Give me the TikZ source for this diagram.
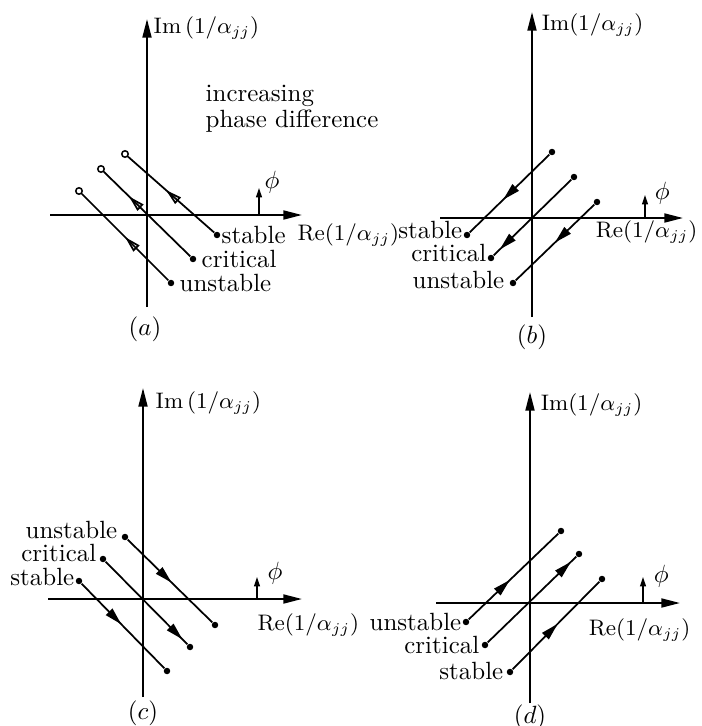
\documentclass[tikz,border=0pt]{standalone}
\usepackage{amsmath,amssymb}
\usepackage{tikz}
\usetikzlibrary{arrows.meta,positioning,decorations.markings}

\tikzset{
  axis/.style={line width=0.8pt, -{Triangle[length=7.5pt,width=3.6pt]}},
  locus/.style={line width=0.7pt},
  phase/.style={line width=0.5pt, -{Triangle[length=3.8pt,width=2.4pt]}},
  dot/.style={circle, fill, inner sep=0pt, minimum size=2.6pt},
  odot/.style={circle, draw, fill=white, line width=0.6pt, inner sep=0pt, minimum size=2.6pt},
  lbl/.style={inner sep=0.5pt},
  axlbl/.style={inner sep=0.5pt, font=\small},
  midarrow/.style={postaction={decorate}, decoration={markings,
    mark=at position #1 with {\arrow{Triangle[length=7pt,width=3.6pt]}}}},
  openarrow/.style={postaction={decorate}, decoration={markings,
    mark=at position #1 with {\arrow{Triangle[open,length=6.5pt,width=3.4pt]}}}},
}

\begin{document}
\begin{tikzpicture}[x=0.0141cm, y=0.0141cm]
\useasboundingbox (0,0) rectangle (701,-726);

% (a) loci turning anticlockwise
\begin{scope}[shift={(147,-215)}]
\coordinate (a-bot) at (0,-92);
\coordinate (a-top) at (0,196);
\coordinate (a-lft) at (-97,0);
\coordinate (a-rgt) at (155,0);
\draw[axis] (a-bot) -- (a-top);
\draw[axis] (a-lft) -- (a-rgt);
\node[axlbl, anchor=west] (a-im) at (5,187) {$\mathrm{Im}\,(1/\alpha_{jj})$};
\node[axlbl, anchor=west] (a-re) at (149,-20) {$\mathrm{Re}(1/\alpha_{jj})$};
\coordinate (a-p0) at (112,0);
\coordinate (a-p1) at (112,27);
\draw[phase] (a-p0) -- (a-p1);
\node[lbl, anchor=west] (a-phi) at (116,33) {$\phi$};
\node[lbl, anchor=west, align=left] (a-inc) at (57,106) {increasing\\[-1.5pt]phase difference};
\node[dot] (a-s0) at (70,-20) {};
\node[odot] (a-s1) at (-22,61) {};
\node[dot] (a-c0) at (46,-44) {};
\node[odot] (a-c1) at (-46,46) {};
\node[dot] (a-u0) at (24,-68) {};
\node[odot] (a-u1) at (-68,24) {};
\draw[locus, openarrow=0.56] (a-s0) -- (a-s1);
\draw[locus, openarrow=0.71] (a-c0) -- (a-c1);
\draw[locus, openarrow=0.5] (a-u0) -- (a-u1);
\node[lbl, anchor=west] (a-st) at (73,-20) {stable};
\node[lbl, anchor=west] (a-cr) at (53,-44) {critical};
\node[lbl, anchor=west] (a-un) at (31,-68) {unstable};
\node (a-cap) at (-2,-114) {$(a)$};
\end{scope}

% (b)
\begin{scope}[shift={(532,-218)}]
\coordinate (b-bot) at (0,-99);
\coordinate (b-top) at (0,206);
\coordinate (b-lft) at (-92,0);
\coordinate (b-rgt) at (151,0);
\draw[axis] (b-bot) -- (b-top);
\draw[axis] (b-lft) -- (b-rgt);
\node[axlbl, anchor=west] (b-im) at (8,193) {$\mathrm{Im}(1/\alpha_{jj})$};
\node[axlbl, anchor=east] (b-re) at (167,-14) {$\mathrm{Re}(1/\alpha_{jj})$};
\coordinate (b-p0) at (113,0);
\coordinate (b-p1) at (113,23);
\draw[phase] (b-p0) -- (b-p1);
\node[lbl, anchor=west] (b-phi) at (121,25) {$\phi$};
\node[dot] (b-s0) at (20,66) {};
\node[dot] (b-s1) at (-65,-17) {};
\node[dot] (b-c0) at (42,41) {};
\node[dot] (b-c1) at (-41,-40) {};
\node[dot] (b-u0) at (65,16) {};
\node[dot] (b-u1) at (-19,-65) {};
\draw[locus, midarrow=0.58] (b-s0) -- (b-s1);
\draw[locus, midarrow=0.92] (b-c0) -- (b-c1);
\draw[locus, midarrow=0.5] (b-u0) -- (b-u1);
\node[lbl, anchor=east] (b-st) at (-68,-12) {stable};
\node[lbl, anchor=east] (b-cr) at (-44,-35) {critical};
\node[lbl, anchor=east] (b-un) at (-26,-62) {unstable};
\node (b-cap) at (0,-119) {$(b)$};
\end{scope}

% (c)
\begin{scope}[shift={(143,-599)}]
\coordinate (c-bot) at (0,-98);
\coordinate (c-top) at (0,211);
\coordinate (c-lft) at (-95,0);
\coordinate (c-rgt) at (159,0);
\draw[axis] (c-bot) -- (c-top);
\draw[axis] (c-lft) -- (c-rgt);
\node[axlbl, anchor=west] (c-im) at (11,196) {$\mathrm{Im}\,(1/\alpha_{jj})$};
\node[axlbl, anchor=west] (c-re) at (113,-26) {$\mathrm{Re}(1/\alpha_{jj})$};
\coordinate (c-p0) at (114,0);
\coordinate (c-p1) at (114,22);
\draw[phase] (c-p0) -- (c-p1);
\node[lbl, anchor=west] (c-phi) at (123,26) {$\phi$};
\node[dot] (c-u0) at (-18,62) {};
\node[dot] (c-u1) at (72,-26) {};
\node[dot] (c-c0) at (-40,40) {};
\node[dot] (c-c1) at (47,-48) {};
\node[dot] (c-s0) at (-64,18) {};
\node[dot] (c-s1) at (24,-72) {};
\draw[locus, midarrow=0.52] (c-u0) -- (c-u1);
\draw[locus, midarrow=0.94] (c-c0) -- (c-c1);
\draw[locus, midarrow=0.48] (c-s0) -- (c-s1);
\node[lbl, anchor=east] (c-un) at (-24,69) {unstable};
\node[lbl, anchor=east] (c-cr) at (-45,46) {critical};
\node[lbl, anchor=east] (c-st) at (-67,22) {stable};
\node (c-cap) at (0,-114) {$(c)$};
\end{scope}

% (d)
\begin{scope}[shift={(530,-603)}]
\coordinate (d-bot) at (0,-100);
\coordinate (d-top) at (0,211);
\coordinate (d-lft) at (-94,0);
\coordinate (d-rgt) at (150,0);
\draw[axis] (d-bot) -- (d-top);
\draw[axis] (d-lft) -- (d-rgt);
\node[axlbl, anchor=west] (d-im) at (9,198) {$\mathrm{Im}(1/\alpha_{jj})$};
\node[axlbl, anchor=east] (d-re) at (162,-27) {$\mathrm{Re}(1/\alpha_{jj})$};
\coordinate (d-p0) at (113,0);
\coordinate (d-p1) at (113,26);
\draw[phase] (d-p0) -- (d-p1);
\node[lbl, anchor=west] (d-phi) at (122,27) {$\phi$};
\node[dot] (d-u0) at (-64,-19) {};
\node[dot] (d-u1) at (31,72) {};
\node[dot] (d-c0) at (-45,-42) {};
\node[dot] (d-c1) at (49,49) {};
\node[dot] (d-s0) at (-20,-69) {};
\node[dot] (d-s1) at (72,24) {};
\draw[locus, midarrow=0.46] (d-u0) -- (d-u1);
\draw[locus, midarrow=0.94] (d-c0) -- (d-c1);
\draw[locus, midarrow=0.52] (d-s0) -- (d-s1);
\node[lbl, anchor=east] (d-un) at (-67,-19) {unstable};
\node[lbl, anchor=east] (d-cr) at (-49,-42) {critical};
\node[lbl, anchor=east] (d-st) at (-25,-68) {stable};
\node (d-cap) at (0,-114) {$(d)$};
\end{scope}
\end{tikzpicture}
\end{document}
